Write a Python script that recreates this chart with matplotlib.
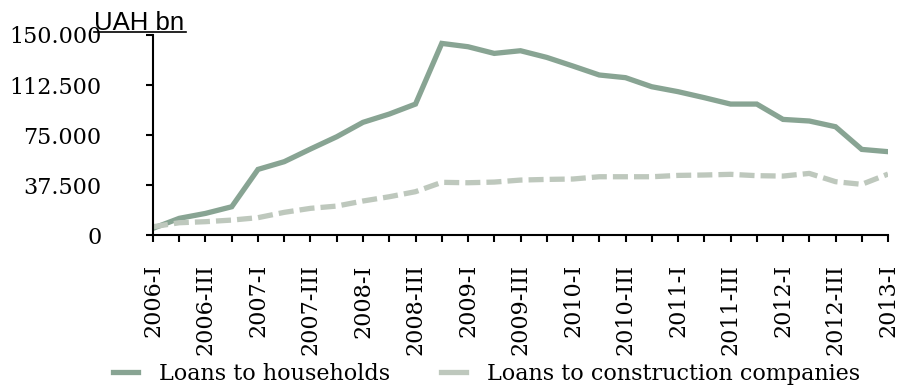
import matplotlib.pyplot as plt
from matplotlib.lines import Line2D

# Quarterly periods, 2006-I .. 2013-I
quarters = [f"{y}-{q}" for y in range(2006, 2014) for q in ["I", "II", "III", "IV"]][:29]

households = [5.0, 12.5, 16.2, 21.2, 49.2, 55.0, 64.5, 73.7, 84.5, 90.7,
              98.2, 143.7, 141.2, 136.2, 138.2, 133.2, 126.7, 120.0, 118.0,
              111.2, 107.5, 103.0, 98.2, 98.2, 86.7, 85.5, 81.2, 64.2, 62.5]
construction = [6.2, 9.2, 10.0, 11.2, 13.0, 17.0, 20.0, 21.7, 25.5, 28.7,
                32.5, 39.5, 39.2, 39.7, 41.2, 41.7, 42.0, 43.7, 43.7, 43.7,
                44.7, 45.0, 45.5, 44.5, 44.2, 46.2, 40.0, 38.0, 45.7]

yticks = [0, 37.5, 75, 112.5, 150]
ytick_labels = ["0", "37.500", "75.000", "112.500", "150.000"]

green = "#88a493"
grey = "#bec8bd"
serif = "DejaVu Serif"
fs = 16

fig = plt.figure(figsize=(9.01, 3.88), dpi=100)
ax = fig.add_axes([0.1698, 0.3943, 0.8158, 0.5155])

x = list(range(len(quarters)))
ax.plot(x, households, color=green, lw=3.8, solid_joinstyle="miter")
ax.plot(x, construction, color=grey, lw=3.8, dashes=(2.85, 1.15))

ax.set_xlim(0, len(quarters) - 1)
ax.set_ylim(0, 150)

for s in ["top", "right"]:
    ax.spines[s].set_visible(False)
for s in ["left", "bottom"]:
    ax.spines[s].set_linewidth(1.5)
    ax.spines[s].set_color("black")

ax.set_xticks(x)
ax.set_xticklabels([q if i % 2 == 0 else "" for i, q in enumerate(quarters)],
                   rotation=90, fontfamily=serif, fontsize=fs)
ax.set_yticks(yticks)
ax.set_yticklabels(ytick_labels, fontfamily=serif, fontsize=fs)
ax.tick_params(axis="x", length=5, width=1.5, pad=16)
ax.tick_params(axis="y", length=5, width=1.5, pad=32)

# unit label with underline
fig.text(0.1043, 0.9227, "UAH bn", fontfamily="Liberation Sans", fontsize=18.5,
         ha="left", va="baseline")
fig.add_artist(Line2D([0.104, 0.206], [0.917, 0.917], color="black", lw=1.2))

handles = [Line2D([], [], color=green, lw=3.8),
           Line2D([], [], color=grey, lw=3.8)]
fig.legend(handles, ["Loans to households", "Loans to construction companies"],
           loc="center", bbox_to_anchor=(0.54, 0.037), ncol=2, frameon=False,
           prop={"family": serif, "size": fs}, handlelength=1.1,
           handletextpad=0.95, columnspacing=2.3, borderpad=0, borderaxespad=0)

fig.savefig("out.png", dpi=100)
